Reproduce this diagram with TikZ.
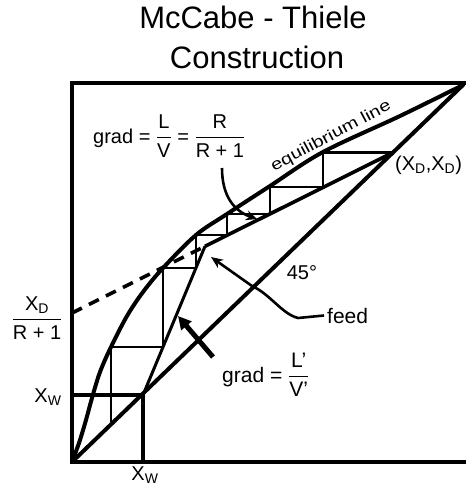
\documentclass[tikz,border=0pt]{standalone}
\usepackage{fontspec}
\setmainfont{Liberation Sans}
\usepackage{amsmath}
\usetikzlibrary{arrows.meta}
\begin{document}
\begin{tikzpicture}[x=1pt,y=-1pt,
  frame/.style={line width=4.5pt, line join=miter},
  thickln/.style={line width=4pt},
  eqcurve/.style={line width=4pt, line join=round, line cap=round},
  opline/.style={line width=3.6pt},
  stepln/.style={line width=2.6pt, line join=miter},
  leader/.style={line width=2.6pt},
  lbl/.style={inner sep=0pt, font=\fontsize{20}{24}\selectfont},
  lblbig/.style={inner sep=0pt, font=\fontsize{21}{25}\selectfont},
  titlefont/.style={inner sep=0pt, font=\fontsize{31}{36}\selectfont},
]
\useasboundingbox (0,0) rectangle (466,491);

% key points
\coordinate (O) at (72,462);
\coordinate (T) at (463,85);
\coordinate (XD) at (393,152.5);
\coordinate (XW) at (143,395);
\coordinate (YD) at (72,313);
\coordinate (Q) at (205,246.3);
\coordinate (FTR) at (466,83);
\coordinate (FTL) at (72,83);
\coordinate (FBR) at (466,462);
\coordinate (XWy) at (72,395);
\coordinate (XWx) at (143,462);

% staircase corners
\coordinate (e1) at (323,152.5);
\coordinate (o1) at (323,187);
\coordinate (e2) at (270,187);
\coordinate (o2) at (270,214);
\coordinate (e3) at (227,214);
\coordinate (o3) at (227,235);
\coordinate (e4) at (196,235);
\coordinate (s4) at (196,268);
\coordinate (e5) at (163,268);
\coordinate (s5) at (163,347);
\coordinate (e6) at (111,347);
\coordinate (d6) at (111,422);

% frame / axes
\draw[frame] (FTR) -- (FTL) -- (O) -- (FBR);
\draw[thickln] (XWy) -- (XW) -- (XWx);

% 45 degree line
\draw[thickln] (O) -- (T);

% equilibrium curve
\draw[eqcurve] plot[smooth, tension=0.55] coordinates {(72,462) (75,454) (80,440) (86,420) (92,398) (100,372) (111,347) (127,316) (143,292) (163,268) (196,235) (227,214) (270,186) (323,152) (400,116) (463,85)};

% operating lines
\draw[opline] (Q) -- (XD);
\draw[opline, dash pattern=on 11pt off 8pt] (YD) -- (Q);
\draw[line width=3pt] (XW) -- (Q);

% stages
\draw[stepln] (XD) -- (e1) -- (o1) -- (e2) -- (o2) -- (e3) -- (o3) -- (e4) -- (s4) -- (e5) -- (s5) -- (e6) -- (d6);

% title
\node[titlefont, anchor=base] (t1) at (253,28) {McCabe - Thiele};
\node[titlefont, anchor=base] (t2) at (257,68) {Construction};

% labels
\node[inner sep=0pt, font=\fontsize{16}{18}\selectfont, rotate=28, anchor=base] (eqlbl) at (333,140) {\scalebox{1.25}[1]{equilibrium line}};

\node[lbl, anchor=base west] (g1) at (93,143) {grad = $\dfrac{\text{L}}{\text{V}}$ = $\dfrac{\text{R}}{\text{R + 1}}$};
\coordinate (g1s) at (222,168);
\coordinate (g1t) at (257,219);
\draw[leader, -{Stealth[length=11pt,width=10pt]}] (g1s) .. controls (222,196) and (234,211) .. (g1t);

\node[lblbig, anchor=base west] (feed) at (327,323) {feed};
\coordinate (fk) at (298,318);
\coordinate (fm) at (252,286);
\coordinate (ftip) at (211,257);
\draw[leader, -{Stealth[length=12pt,width=10pt]}] ([xshift=-3pt]feed.west) -- (fk) .. controls (282,314) and (270,294) .. (fm) -- (ftip);

\node[lbl] (a45) at (302,273) {45°};

\node[lblbig, anchor=base west] (g2) at (222,382) {grad = $\dfrac{\text{L'}}{\text{V'}}$};
\coordinate (g2s) at (213,357);
\coordinate (g2t) at (178,316);
\draw[line width=5pt, -{Triangle[length=13pt,width=13pt]}] (g2s) -- (g2t);

\node[lbl, anchor=base west] (xdxd) at (395,170) {(X\textsubscript{D},X\textsubscript{D})};
\node[lbl] (xdr) at (37,318) {$\dfrac{\text{X\textsubscript{D}}}{\text{R + 1}}$};
\node[lbl] (xwl) at (48,397) {X\textsubscript{W}};
\node[lbl] (xwb) at (145,475) {X\textsubscript{W}};
\end{tikzpicture}
\end{document}
